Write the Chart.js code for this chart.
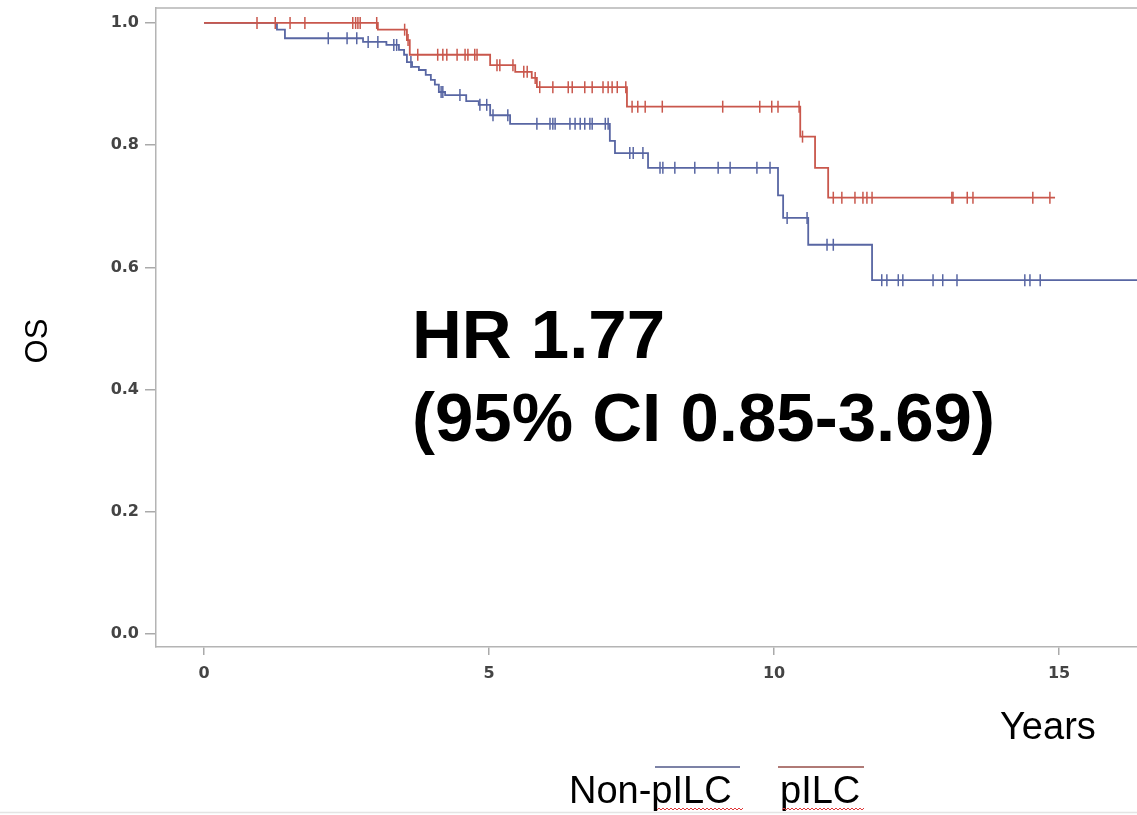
<!DOCTYPE html>
<html><head><meta charset="utf-8">
<script src="https://cdn.jsdelivr.net/npm/chart.js@4"></script>
<style>html,body{margin:0;padding:0;background:#fff;overflow:hidden;}canvas{display:block;}</style>
</head><body>
<canvas id="c" width="1137" height="815"></canvas>
<script>
// ---- data ----
const xTickValues = [0, 5, 10, 15];
const yTickValues = [0, 0.2, 0.4, 0.6, 0.8, 1.0];
const seriesNames = ['Non-pILC', 'pILC'];

// pILC (red) Kaplan-Meier steps
const redTimes = [0, 3.05, 3.56, 3.61, 5.02, 5.46, 5.75, 5.84, 7.42, 10.46, 10.72, 10.95, 14.93];
const redSurv  = [1, 0.989, 0.972, 0.948, 0.931, 0.920, 0.910, 0.895, 0.863, 0.814, 0.763, 0.714, 0.714];
const redCensor = [0.93, 1.25, 1.51, 1.77, 2.61, 2.66, 2.70, 2.74, 3.03, 3.52, 3.58, 3.75, 4.10, 4.19, 4.26,
  4.44, 4.58, 4.63, 4.75, 4.79, 5.14, 5.19, 5.42, 5.61, 5.67, 5.81, 5.89, 6.12, 6.39, 6.46, 6.68, 6.81,
  7.00, 7.09, 7.16, 7.25, 7.40, 7.51, 7.61, 7.74, 8.04, 9.10, 9.75, 9.96, 10.07, 10.44, 10.50, 11.04,
  11.19, 11.42, 11.56, 11.63, 11.72, 13.12, 13.14, 13.39, 13.49, 14.54, 14.84];

// Non-pILC (blue) Kaplan-Meier steps
const blueTimes = [0, 1.28, 1.42, 2.79, 3.20, 3.42, 3.51, 3.56, 3.65, 3.77, 3.89, 3.98, 4.05, 4.12, 4.23,
  4.60, 4.82, 5.02, 5.37, 7.12, 7.21, 7.79, 10.07, 10.16, 10.60, 11.72, 16.50];
const blueSurv  = [1, 0.989, 0.975, 0.969, 0.964, 0.956, 0.948, 0.936, 0.928, 0.923, 0.915, 0.907, 0.899,
  0.887, 0.882, 0.872, 0.866, 0.849, 0.835, 0.807, 0.787, 0.763, 0.718, 0.681, 0.637, 0.579, 0.579];
const blueCensor = [2.18, 2.51, 2.68, 2.88, 3.05, 3.33, 3.38, 3.63, 4.16, 4.19, 4.49, 4.84, 4.96, 5.07,
  5.33, 5.84, 6.07, 6.12, 6.16, 6.42, 6.51, 6.60, 6.68, 6.77, 6.81, 7.04, 7.09, 7.47, 7.53, 7.70, 8.00,
  8.05, 8.26, 8.61, 9.02, 9.23, 9.70, 9.93, 10.23, 10.58, 10.93, 11.04, 11.89, 11.98, 12.18, 12.26,
  12.79, 12.96, 13.21, 14.40, 14.49, 14.67];

// ---- helpers ----
const RED = '#c9574c', BLUE = '#5866a3';
function stepPts(times, surv) { return times.map((t, i) => ({x: t, y: surv[i]})); }
function survAt(times, surv, t) { let s = surv[0]; for (let i = 0; i < times.length; i++) { if (times[i] <= t) s = surv[i]; } return s; }
function censorPts(c, times, surv) { return c.map(t => ({x: t, y: survAt(times, surv, t)})); }

const decor = {
  id: 'decor',
  afterDraw(chart) {
    const ctx = chart.ctx, a = chart.chartArea;
    ctx.save();
    // top frame line
    ctx.strokeStyle = '#b4b4b4'; ctx.lineWidth = 1.5;
    ctx.beginPath(); ctx.moveTo(a.left, a.top); ctx.lineTo(a.right, a.top); ctx.stroke();
    ctx.fillStyle = '#000';
    // y axis title
    ctx.save(); ctx.translate(47, 341); ctx.rotate(-Math.PI / 2);
    ctx.font = '31px "Liberation Sans", Arial, sans-serif'; ctx.textAlign = 'center'; ctx.textBaseline = 'alphabetic';
    ctx.fillText('OS', 0, 0); ctx.restore();
    // x axis title
    ctx.font = '38px "Liberation Sans", Arial, sans-serif'; ctx.textAlign = 'left'; ctx.textBaseline = 'alphabetic';
    ctx.fillText('Years', 1000, 739);
    // HR annotation
    ctx.font = 'bold 69px "Liberation Sans", Arial, sans-serif';
    ctx.fillText('HR 1.77', 412, 358);
    ctx.fillText('(95% CI 0.85-3.69)', 412, 441);
    // legend
    ctx.lineWidth = 2;
    ctx.strokeStyle = '#7c82a6'; ctx.beginPath(); ctx.moveTo(655, 767); ctx.lineTo(740, 767); ctx.stroke();
    ctx.strokeStyle = '#b07a76'; ctx.beginPath(); ctx.moveTo(778, 767); ctx.lineTo(864, 767); ctx.stroke();
    ctx.font = '38px "Liberation Sans", Arial, sans-serif';
    ctx.fillText(seriesNames[0], 569, 803);
    ctx.fillText(seriesNames[1], 780, 803);
    // spell-check squiggles
    function wavy(x0, x1, y) {
      ctx.beginPath(); ctx.moveTo(x0, y);
      let up = true;
      for (let x = x0 + 2; x <= x1; x += 2) { ctx.lineTo(x, up ? y - 2 : y); up = !up; }
      ctx.stroke();
    }
    ctx.strokeStyle = '#e0383a'; ctx.lineWidth = 1;
    wavy(657, 743, 810); wavy(782, 864, 810);
    // bottom slide line
    ctx.strokeStyle = '#e4e4e4'; ctx.lineWidth = 1.5;
    ctx.beginPath(); ctx.moveTo(0, 812.5); ctx.lineTo(1137, 812.5); ctx.stroke();
    ctx.restore();
  }
};

new Chart(document.getElementById('c'), {
  type: 'line',
  data: {
    datasets: [
      {label: seriesNames[1], data: stepPts(redTimes, redSurv), stepped: true, borderColor: RED, borderWidth: 1.8, pointRadius: 0, fill: false, order: 0},
      {label: seriesNames[1] + ' censored', data: censorPts(redCensor, redTimes, redSurv), showLine: false, pointStyle: 'line', rotation: 90, pointRadius: 6, borderColor: RED, borderWidth: 1.5, order: 1},
      {label: seriesNames[0], data: stepPts(blueTimes, blueSurv), stepped: true, borderColor: BLUE, borderWidth: 1.8, pointRadius: 0, fill: false, order: 2},
      {label: seriesNames[0] + ' censored', data: censorPts(blueCensor, blueTimes, blueSurv), showLine: false, pointStyle: 'line', rotation: 90, pointRadius: 6, borderColor: BLUE, borderWidth: 1.5, order: 3}
    ]
  },
  options: {
    responsive: false, animation: false, devicePixelRatio: 1,
    layout: {autoPadding: false, padding: {top: 8, left: 0, right: 0, bottom: 0}},
    plugins: {legend: {display: false}, tooltip: {enabled: false}},
    scales: {
      x: {
        type: 'linear', min: -0.842, max: 16.368,
        afterBuildTicks: s => { s.ticks = xTickValues.map(v => ({value: v})); },
        afterFit: s => { s.height = 168; s.paddingLeft = 0; s.paddingRight = 0; },
        grid: {display: true, drawOnChartArea: false, drawTicks: true, tickLength: 8, color: '#aaaaaa', lineWidth: 1.5},
        border: {display: true, color: '#b4b4b4', width: 1.5},
        ticks: {padding: 9, color: '#444', font: {family: '"DejaVu Sans"', weight: 'bold', size: 16}, callback: v => String(v)}
      },
      y: {
        type: 'linear', min: -0.0213, max: 1.0245,
        afterBuildTicks: s => { s.ticks = yTickValues.map(v => ({value: v})); },
        afterFit: s => { s.width = 156; s.paddingTop = 0; s.paddingBottom = 0; },
        grid: {display: true, drawOnChartArea: false, drawTicks: true, tickLength: 11, color: '#aaaaaa', lineWidth: 1.5},
        border: {display: true, color: '#b4b4b4', width: 1.5},
        ticks: {padding: 6, color: '#444', font: {family: '"DejaVu Sans"', weight: 'bold', size: 16}, callback: v => Number(v).toFixed(1)}
      }
    }
  },
  plugins: [decor]
});
</script>
</body></html>
